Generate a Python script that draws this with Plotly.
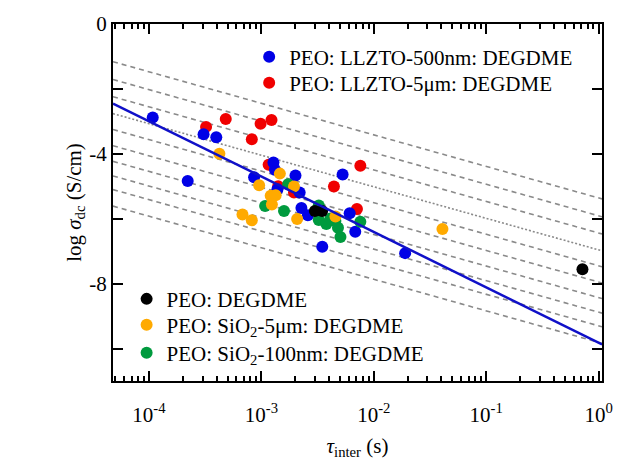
import plotly.graph_objects as go

# ---- data (tau in s, log10 sigma_dc in S/cm) ----
blue_tau = [1.08e-4, 3.06e-4, 3.97e-4, 2.21e-4, 1.28e-3, 1.32e-3, 8.61e-4, 2.01e-3, 1.39e-3,
            2.19e-3, 5.28e-3, 2.27e-3, 2.59e-3, 6.10e-3, 6.84e-3, 3.48e-3, 1.90e-2]
blue_logsig = [-2.88, -3.40, -3.49, -4.84, -4.27, -4.49, -4.72, -4.67, -5.09,
               -5.19, -4.64, -5.67, -5.89, -5.83, -6.40, -6.86, -7.06]

red_tau = [3.22e-4, 4.82e-4, 8.22e-4, 9.84e-4, 1.23e-3, 1.16e-3, 1.41e-3, 1.95e-3, 4.42e-3,
           7.59e-3, 7.08e-3]
red_logsig = [-3.17, -2.93, -3.55, -3.07, -2.96, -4.34, -5.00, -5.19, -5.01, -4.37, -5.70]

orange_tau = [4.23e-4, 1.46e-3, 9.55e-4, 1.95e-3, 1.21e-3, 1.34e-3, 1.24e-3, 6.79e-4, 8.22e-4,
              2.08e-3, 4.56e-3, 4.08e-2]
orange_logsig = [-4.00, -4.61, -4.97, -5.01, -5.29, -5.28, -5.56, -5.87, -6.05, -6.01, -5.93, -6.32]

green_tau = [1.73e-3, 1.08e-3, 1.59e-3, 3.24e-3, 3.24e-3, 3.78e-3, 4.55e-3, 4.80e-3, 5.05e-3,
             7.59e-3, 4.11e-3]
green_logsig = [-4.94, -5.61, -5.76, -5.59, -6.04, -6.16, -6.07, -6.28, -6.56, -6.09, -5.99]

black_tau = [2.99e-3, 3.47e-3, 0.718]
black_logsig = [-5.76, -5.76, -7.56]

# guide lines: log sigma = intercept + slope * log tau
guide_intercepts = [-5.36, -5.91, -6.44, -6.96, -7.45, -7.95, -8.43, -8.88, -9.30, -9.81]
guide_styles = ["dash", "dash", "dash", "dot", "dash", "dash", "dash", "dash", "dash", "dash"]
guide_slope = -0.972
fit_intercept = -9.82
fit_slope = -1.706

x_log_range = [-4.32, 0.03]
y_range = [-11, 0]

x_tickvals = [1e-4, 1e-3, 1e-2, 1e-1, 1e0]
x_ticktext = ["10<sup>-4</sup>", "10<sup>-3</sup>", "10<sup>-2</sup>", "10<sup>-1</sup>", "10<sup>0</sup>"]
y_tickvals = [0, -4, -8]
y_ticktext = ["0", "-4", "-8"]
y_minor_vals = [-2, -6, -10]

FONT = "Liberation Serif, Times New Roman, serif"

fig = go.Figure()

xl = [10 ** x_log_range[0], 10 ** x_log_range[1]]
for c, st in zip(guide_intercepts, guide_styles):
    ys = [c + guide_slope * x_log_range[0], c + guide_slope * x_log_range[1]]
    fig.add_trace(go.Scatter(
        x=xl, y=ys, mode="lines", showlegend=False, hoverinfo="skip",
        line=dict(color="#8a8a8a", width=1.6, dash="5px,4px" if st == "dash" else "2px,2px")))

series = [
    ("PEO: LLZTO-5μm: DEGDME", red_tau, red_logsig, "#f00000", "legend2"),
    ("PEO: LLZTO-500nm: DEGDME", blue_tau, blue_logsig, "#0000e6", "legend"),
    ("PEO: SiO<sub>2</sub>-100nm: DEGDME", green_tau, green_logsig, "#009a3e", "legend5"),
    ("PEO: SiO<sub>2</sub>-5μm: DEGDME", orange_tau, orange_logsig, "#ffaa00", "legend4"),
    ("PEO: DEGDME", black_tau, black_logsig, "#000000", "legend3"),
]
for name, xs, ys, col, lg in series:
    fig.add_trace(go.Scatter(
        x=xs, y=ys, mode="markers", name=name, legend=lg,
        marker=dict(color=col, size=12, line=dict(width=0))))

fig.add_trace(go.Scatter(
    x=xl, y=[fit_intercept + fit_slope * x_log_range[0], fit_intercept + fit_slope * x_log_range[1]],
    mode="lines", showlegend=False, hoverinfo="skip",
    line=dict(color="#1010c8", width=2.5)))

minor_vals = [m * 10 ** e for e in range(-5, 1) for m in range(2, 10)]

axis_common = dict(showline=True, linecolor="black", linewidth=2, mirror="ticks",
                   ticks="inside", tickcolor="black", tickwidth=2, showgrid=False,
                   zeroline=False, tickfont=dict(family=FONT, size=21, color="black"))

fig.update_xaxes(type="log", range=x_log_range, tickmode="array", tickvals=x_tickvals,
                 ticktext=x_ticktext, ticklen=10, ticklabelstandoff=14,
                 minor=dict(tickmode="array", tickvals=minor_vals, ticks="inside", ticklen=5,
                            tickwidth=1.5, tickcolor="black", showgrid=False),
                 title=dict(text="<i>τ</i><sub>inter</sub> (s)", font=dict(family=FONT, size=21, color="black"),
                            standoff=12),
                 **axis_common)
fig.update_yaxes(range=y_range, tickmode="array", tickvals=y_tickvals, ticktext=y_ticktext,
                 ticklen=10,
                 minor=dict(tickmode="array", tickvals=y_minor_vals, ticks="inside", ticklen=10,
                            tickwidth=2, tickcolor="black", showgrid=False),
                 title=dict(text="log <i>σ</i><sub>dc</sub> (S/cm)", font=dict(family=FONT, size=21, color="black"),
                            standoff=2),
                 **axis_common)

lg_common = dict(font=dict(family=FONT, size=21, color="black"), bgcolor="rgba(0,0,0,0)",
                 xanchor="left", yanchor="middle", itemsizing="trace")


def py(pix):
    return 1 - (pix - 13) / 368


def px(pix):
    return (pix - 20 - 113) / 492


fig.update_layout(
    width=625, height=472,
    margin=dict(l=113, r=20, t=13, b=91),
    paper_bgcolor="white", plot_bgcolor="white",
    font=dict(family=FONT, color="black"),
    legend=dict(x=px(270), y=py(47), **lg_common),
    legend2=dict(x=px(270), y=py(74), **lg_common),
    legend3=dict(x=px(146.7), y=py(296.7), **lg_common),
    legend4=dict(x=px(146.7), y=py(323.3), **lg_common),
    legend5=dict(x=px(146.7), y=py(352.3), **lg_common),
)

fig.write_html("out.html")
